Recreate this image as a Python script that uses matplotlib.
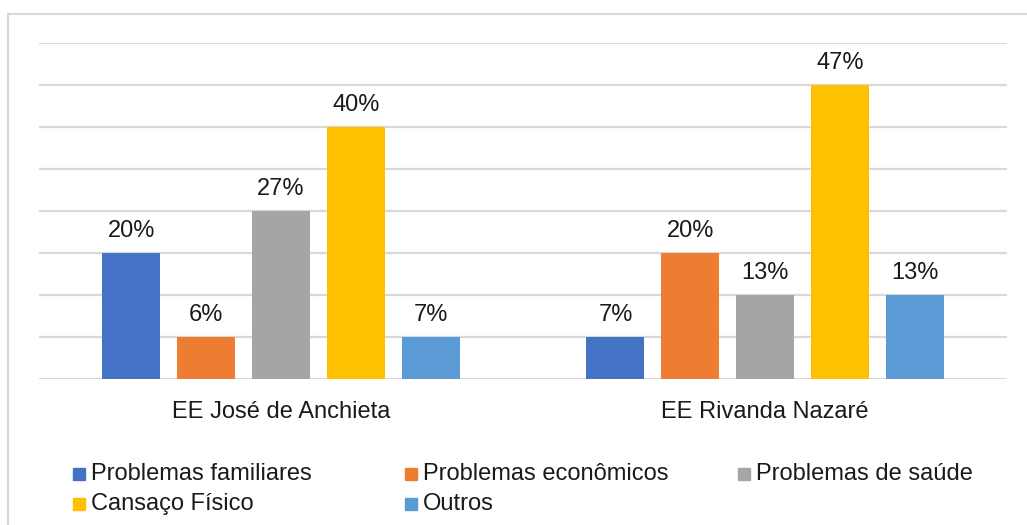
import numpy as np
import matplotlib
matplotlib.use("Agg")
import matplotlib.pyplot as plt
from matplotlib.lines import Line2D
from matplotlib.patches import Rectangle

plt.rcParams['font.family'] = ['Liberation Sans', 'DejaVu Sans']

# data
schools = ["EE José de Anchieta", "EE Rivanda Nazaré"]
reasons = ["Problemas familiares", "Problemas econômicos", "Problemas de saúde",
           "Cansaço Físico", "Outros"]
colors = ["#4472C4", "#ED7D31", "#A5A5A5", "#FFC000", "#5B9BD5"]
# bar heights (grid units) and the printed labels
heights = [[3, 1], [1, 3], [4, 2], [6, 7], [1, 2]]
labels = [["20%", "7%"], ["6%", "20%"], ["27%", "13%"], ["40%", "47%"], ["7%", "13%"]]

W, H = 1027, 525
FS = 17
TXT = "#1a1a1a"
fig = plt.figure(figsize=(W / 100, H / 100), dpi=100)

# outer chart frame (light gray, left and top)
fig.add_artist(Line2D([8 / W, 8 / W], [0, 1 - 14 / H], color="#d9d9d9", lw=1.5))
fig.add_artist(Line2D([8 / W, 1], [1 - 14 / H, 1 - 14 / H], color="#d9d9d9", lw=1.5))

ax = fig.add_axes([39 / W, (H - 379) / H, 968 / W, 336 / H])
ax.set_xlim(-0.5, 1.5)
ax.set_ylim(0, 8)
for s in ax.spines.values():
    s.set_visible(False)
ax.set_yticks(np.arange(0, 9))
ax.yaxis.grid(True, color="#d9d9d9", lw=1.6)
ax.set_axisbelow(True)
ax.tick_params(axis="y", left=False, labelleft=False)
ax.tick_params(axis="x", bottom=False, labelsize=FS, pad=12)

x = np.arange(len(schools))
bw = 0.12
step = 0.1545
for i, (r, c) in enumerate(zip(reasons, colors)):
    pos = x + (i - 2) * step
    ax.bar(pos, heights[i], width=bw, color=c, zorder=3)
    for p, hgt, lab in zip(pos, heights[i], labels[i]):
        ax.annotate(lab, (p, hgt), xytext=(0, 8), textcoords="offset points",
                    ha="center", va="bottom", fontsize=FS, color=TXT)

ax.set_xticks(x)
ax.set_xticklabels(schools, color=TXT)

# legend, laid out like the original (3 columns, 2 rows)
col_x = [73, 405, 738]
row_y = [474, 504]
for i, (r, c) in enumerate(zip(reasons, colors)):
    cx = col_x[i % 3]
    cy = row_y[i // 3]
    fig.add_artist(Rectangle((cx / W, 1 - (cy + 6) / H), 12 / W, 12 / H,
                             color=c, transform=fig.transFigure))
    fig.text((cx + 18) / W, 1 - cy / H, r, fontsize=FS, va="center",
             ha="left", color=TXT)

fig.savefig("out.png", dpi=100, facecolor="white")
